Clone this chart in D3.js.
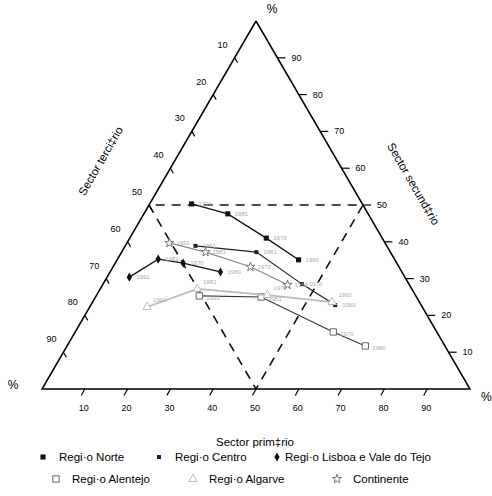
<!DOCTYPE html>
<meta charset="utf-8">
<style>
  body { margin: 0; background: #fff; }
  text { font-family: "Liberation Sans", Arial, sans-serif; }
</style>
<body>
<div id="chart"></div>
<script src="https://d3js.org/d3.v7.min.js"></script>
<script>

// values: [primario, secundario, terciario] in %
var years = ["1960", "1970", "1981", "1991"];
var ticks = [10, 20, 30, 40, 50, 60, 70, 80, 90];

var norte    = [[42.4, 35.1, 22.5], [31.9, 41.0, 27.1], [19.6, 47.6, 32.8], [9.8, 50.3, 39.9]];
var centro   = [[57.1, 22.8, 20.1], [46.5, 28.5, 25.0], [31.5, 37.2, 31.3], [16.4, 38.9, 44.7]];
var lisboa   = [[25.8, 31.8, 42.4], [15.9, 34.2, 49.9], [9.5, 35.3, 55.2], [5.2, 30.4, 64.4]];
var alentejo = [[69.7, 11.7, 18.6], [60.3, 15.5, 24.2], [38.7, 25.0, 36.3], [24.1, 25.3, 50.6]];
var algarve  = [[56.0, 23.6, 20.4], [39.9, 25.5, 34.6], [22.7, 27.2, 50.1], [13.4, 22.3, 64.3]];
var continente = [[43.2, 28.3, 28.5], [32.1, 33.2, 34.7], [19.6, 37.2, 43.2], [9.9, 39.7, 50.4]];

var width = 492, height = 496;

var svg = d3.select("#chart")
  .append("svg")
    .attr("width", width)
    .attr("height", height);

// triangle of side 100 in its own units
var H = 100 * Math.sqrt(3) / 2;
var x = d3.scaleLinear().domain([0, 100]).range([42, 470]);
var y = d3.scaleLinear().domain([0, H]).range([389, 21]);

function proj(p, s) {
  return [x(p + s / 2), y(s * Math.sqrt(3) / 2)];
}

var line = d3.line().x(function(d) { return proj(d[0], d[1])[0]; })
                    .y(function(d) { return proj(d[0], d[1])[1]; });

// outline
svg.append("path")
  .attr("d", line([[0, 100], [0, 0], [100, 0], [0, 100]]))
  .attr("fill", "none")
  .attr("stroke", "#000")
  .attr("stroke-width", 1.5)
  .attr("stroke-linejoin", "miter");

// dashed inner triangle
svg.append("path")
  .attr("d", line([[0, 50], [50, 0], [50, 50], [0, 50]]))
  .attr("fill", "none")
  .attr("stroke", "#111")
  .attr("stroke-width", 1.6)
  .attr("stroke-dasharray", "9,7");

// bottom axis: primario
var bt = svg.append("g");
ticks.forEach(function(t) {
  var a = proj(t, 0);
  bt.append("line")
    .attr("x1", a[0]).attr("y1", a[1])
    .attr("x2", a[0] - 3.5).attr("y2", a[1] + 6.5)
    .attr("stroke", "#000").attr("stroke-width", 1.2);
  bt.append("text")
    .attr("x", a[0] - 1).attr("y", a[1] + 22)
    .attr("text-anchor", "middle")
    .attr("font-size", 9)
    .text(t);
});

// right axis: secundario
var rt = svg.append("g");
ticks.forEach(function(t) {
  var a = proj(100 - t, t);
  rt.append("line")
    .attr("x1", a[0]).attr("y1", a[1])
    .attr("x2", a[0] + 8).attr("y2", a[1])
    .attr("stroke", "#000").attr("stroke-width", 1.2);
  rt.append("text")
    .attr("x", a[0] + 14).attr("y", a[1] + 3)
    .attr("font-size", 9)
    .text(t);
});

// left axis: terciario
var lt = svg.append("g");
ticks.forEach(function(t) {
  var a = proj(0, 100 - t);
  lt.append("line")
    .attr("x1", a[0]).attr("y1", a[1])
    .attr("x2", a[0] + 3).attr("y2", a[1] + 5)
    .attr("stroke", "#000").attr("stroke-width", 1.2);
  lt.append("text")
    .attr("x", a[0] - 12).attr("y", a[1] - 10)
    .attr("text-anchor", "middle")
    .attr("font-size", 9)
    .text(t);
});

// corner % and axis titles
svg.append("text").attr("x", 272).attr("y", 13).attr("text-anchor", "middle").attr("font-size", 12).text("%");
svg.append("text").attr("x", 13).attr("y", 389).attr("text-anchor", "middle").attr("font-size", 12).text("%");
svg.append("text").attr("x", 481).attr("y", 401).attr("font-size", 12).text("%");

svg.append("text")
  .attr("transform", "translate(104,163) rotate(-60)")
  .attr("text-anchor", "middle").attr("font-size", 11.5)
  .text("Sector terci\u2021rio");
svg.append("text")
  .attr("transform", "translate(410,186) rotate(60)")
  .attr("text-anchor", "middle").attr("font-size", 11.5)
  .text("Sector secund\u2021rio");
svg.append("text")
  .attr("x", 255).attr("y", 446)
  .attr("text-anchor", "middle").attr("font-size", 11.5)
  .text("Sector prim\u2021rio");

// series (dx, dy = year label offset)
var series = [
  {name: "Regi\u00b7o Norte", data: norte, line: "#111", lw: 1.3, sym: d3.symbolSquare, size: 26, fill: "#111", stroke: "none", dx: 7, dy: 2},
  {name: "Regi\u00b7o Centro", data: centro, line: "#222", lw: 1.2, sym: d3.symbolSquare, size: 16, fill: "#222", stroke: "none", dx: 7, dy: 2},
  {name: "Regi\u00b7o Lisboa e Vale do Tejo", data: lisboa, line: "#111", lw: 1.3, sym: d3.symbolDiamond, size: 24, fill: "#111", stroke: "none", dx: 7, dy: 2},
  {name: "Regi\u00b7o Alentejo", data: alentejo, line: "#333", lw: 1.1, sym: d3.symbolSquare, size: 40, fill: "#fff", stroke: "#666", dx: 7, dy: 4},
  {name: "Regi\u00b7o Algarve", data: algarve, line: "#bbb", lw: 1.6, sym: d3.symbolTriangle, size: 30, fill: "#fff", stroke: "#bbb", dx: 6, dy: -5},
  {name: "Continente", data: continente, line: "#888", lw: 1.1, sym: d3.symbolStar, size: 26, fill: "#fff", stroke: "#777", dx: 7, dy: 2}
];

series.forEach(function(s) {
  var g = svg.append("g");
  g.append("path")
    .attr("d", line(s.data))
    .attr("fill", "none")
    .attr("stroke", s.line)
    .attr("stroke-width", s.lw);
  g.selectAll("path.pt")
    .data(s.data)
    .enter().append("path")
      .attr("class", "pt")
      .attr("transform", function(d) { var a = proj(d[0], d[1]); return "translate(" + a[0] + "," + a[1] + ")"; })
      .attr("d", d3.symbol().type(s.sym).size(s.size))
      .attr("fill", s.fill)
      .attr("stroke", s.stroke);
  g.selectAll("text")
    .data(s.data)
    .enter().append("text")
      .attr("x", function(d) { return proj(d[0], d[1])[0] + s.dx; })
      .attr("y", function(d) { return proj(d[0], d[1])[1] + s.dy; })
      .attr("font-size", 6)
      .attr("fill", "#aaa")
      .text(function(d, i) { return years[i]; });
});

// legend
var legendPos = [[43, 461], [159, 461], [277, 461], [56, 483], [193, 483], [337, 483]];
var leg = svg.append("g");
series.forEach(function(s, i) {
  var p = legendPos[i];
  leg.append("path")
    .attr("transform", "translate(" + p[0] + "," + (p[1] - 4) + ")")
    .attr("d", d3.symbol().type(s.sym).size(s.size))
    .attr("fill", s.fill)
    .attr("stroke", s.stroke);
  leg.append("text")
    .attr("x", p[0] + (i == 2 ? 8 : 16)).attr("y", p[1])
    .attr("font-size", 11.5)
    .text(s.name);
});

</script>
</body>
